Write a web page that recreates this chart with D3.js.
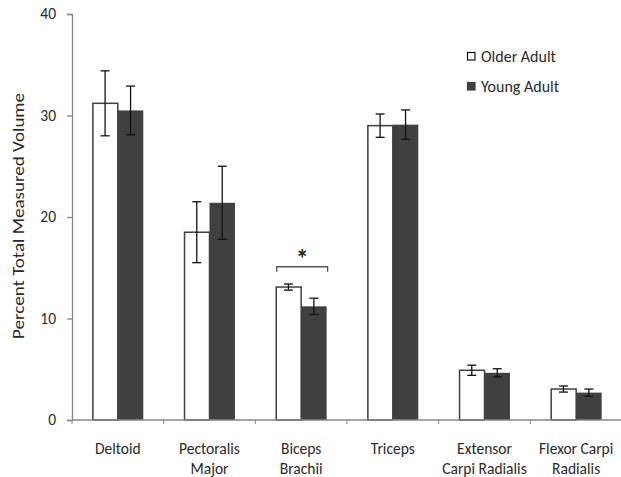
<!DOCTYPE html>
<html><head><meta charset="utf-8">
<script src="https://cdn.jsdelivr.net/npm/d3@7"></script>
<style>
body{margin:0;background:#fff;}
text{font-family:Carlito,Calibri,Lato,"Open Sans",sans-serif;}
</style></head>
<body><svg id="chart" width="621" height="477"></svg>
<script>
const categories = [["Deltoid"],["Pectoralis","Major"],["Biceps","Brachii"],["Triceps"],["Extensor","Carpi Radialis"],["Flexor Carpi","Radialis"]];
const seriesNames = ["Older Adult","Young Adult"];
const olderMean = [31.2, 18.5, 13.1, 29.0, 4.9, 3.05];
const olderErr  = [3.2, 3.0, 0.3, 1.15, 0.5, 0.3];
const youngMean = [30.5, 21.4, 11.2, 29.1, 4.65, 2.7];
const youngErr  = [2.4, 3.6, 0.8, 1.45, 0.4, 0.35];
const yTicks = [0,10,20,30,40];
const sigGroup = 2;

const svg = d3.select("#chart");
const mLeft = 72, mRight = 622, mTop = 14, mBottom = 420;
const catIdx = categories.map((d,i)=>i);
const x0 = d3.scaleBand().domain(catIdx).range([mLeft,mRight]).padding(0);
const x1 = d3.scaleBand().domain([0,1]).range([0,x0.bandwidth()]).paddingInner(0).paddingOuter(0.8);
const y = d3.scaleLinear().domain([0,40]).range([mBottom,mTop]);
const axisColor = "#868686";
const dark = "#404040";
const txt = "#2a2a2a";

// y axis
const yAxis = svg.append("g").attr("transform",`translate(${mLeft},0)`)
  .call(d3.axisLeft(y).tickValues(yTicks).tickSize(5).tickPadding(11));
yAxis.select(".domain").attr("stroke",axisColor).attr("stroke-width",1.3);
yAxis.selectAll(".tick line").attr("stroke",axisColor).attr("stroke-width",1.3);
yAxis.selectAll(".tick text").attr("fill",txt).style("font-size","15.5px")
  .style("font-family","Carlito,Calibri,Lato,'Open Sans',sans-serif");

svg.append("text").attr("transform",`translate(24,216) rotate(-90)`)
  .attr("text-anchor","middle").attr("fill",txt).style("font-size","16px")
  .attr("textLength",246).attr("lengthAdjust","spacingAndGlyphs")
  .text("Percent Total Measured Volume");

const data = catIdx.map(i=>[
  {s:0, v:olderMean[i], e:olderErr[i]},
  {s:1, v:youngMean[i], e:youngErr[i]}
]);

const groups = svg.append("g").selectAll("g").data(data).join("g")
  .attr("transform",(d,i)=>`translate(${x0(i)},0)`);

groups.selectAll("rect").data(d=>d).join("rect")
  .attr("x",d=>x1(d.s)+ (d.s===0?0.5:0))
  .attr("width",d=>x1.bandwidth()-(d.s===0?0.5:0))
  .attr("y",d=>y(d.v))
  .attr("height",d=>mBottom-y(d.v))
  .attr("fill",d=>d.s===0?"#fff":dark)
  .attr("stroke",d=>d.s===0?dark:"none")
  .attr("stroke-width",1.5);

const eb = groups.selectAll("g.err").data(d=>d).join("g").attr("class","err");
eb.append("line")
  .attr("x1",d=>x1(d.s)+x1.bandwidth()/2).attr("x2",d=>x1(d.s)+x1.bandwidth()/2)
  .attr("y1",d=>y(d.v+d.e)).attr("y2",d=>y(d.v-d.e))
  .attr("stroke","#111").attr("stroke-width",1.3);
[1,-1].forEach(sg=>{
  eb.append("line")
    .attr("x1",d=>x1(d.s)+x1.bandwidth()/2-4.5).attr("x2",d=>x1(d.s)+x1.bandwidth()/2+4.5)
    .attr("y1",d=>y(d.v+sg*d.e)).attr("y2",d=>y(d.v+sg*d.e))
    .attr("stroke","#111").attr("stroke-width",1.3);
});

// x axis
svg.append("line").attr("x1",mLeft).attr("x2",mRight).attr("y1",mBottom).attr("y2",mBottom)
  .attr("stroke",axisColor).attr("stroke-width",1.5);
svg.append("g").selectAll("line").data(catIdx.concat([categories.length])).join("line")
  .attr("x1",i=>mLeft+i*x0.step()).attr("x2",i=>mLeft+i*x0.step())
  .attr("y1",mBottom).attr("y2",mBottom+4).attr("stroke",axisColor);

const labels = svg.append("g").selectAll("text").data(categories).join("text")
  .attr("text-anchor","middle").attr("fill",txt).style("font-size","15.5px")
  .attr("x",(d,i)=>x0(i)+x0.bandwidth()/2).attr("y",454);
labels.selectAll("tspan").data(d=>d).join("tspan")
  .attr("x",function(){return this.parentNode.getAttribute("x");})
  .attr("dy",(d,j)=>j===0?0:20).text(d=>d);

// significance bracket
const gx = x0(sigGroup);
const bx1 = gx + x1(0) + 1, bx2 = gx + x1(1) + x1.bandwidth() + 1;
const by = y(olderMean[sigGroup] + 2.0);
svg.append("path").attr("d",`M${bx1},${by+5}V${by}H${bx2}V${by+5}`)
  .attr("fill","none").attr("stroke","#555").attr("stroke-width",1.3);
svg.append("text").attr("x",(bx1+bx2)/2).attr("y",by+1).attr("text-anchor","middle")
  .style("font-size","26px").style("font-weight","bold").attr("fill","#222").text("*");

// legend
const lg = svg.append("g").attr("transform","translate(467,52)");
seriesNames.forEach((n,i)=>{
  lg.append("rect").attr("x",0.5).attr("y",i*30+0.5).attr("width",7.5).attr("height",7.5)
    .attr("fill",i===0?"#fff":dark).attr("stroke",i===0?"#111":dark).attr("stroke-width",1.2);
  lg.append("text").attr("x",14).attr("y",i*30+9.5).style("font-size","16px").attr("fill",txt).text(n);
});
</script></body></html>
